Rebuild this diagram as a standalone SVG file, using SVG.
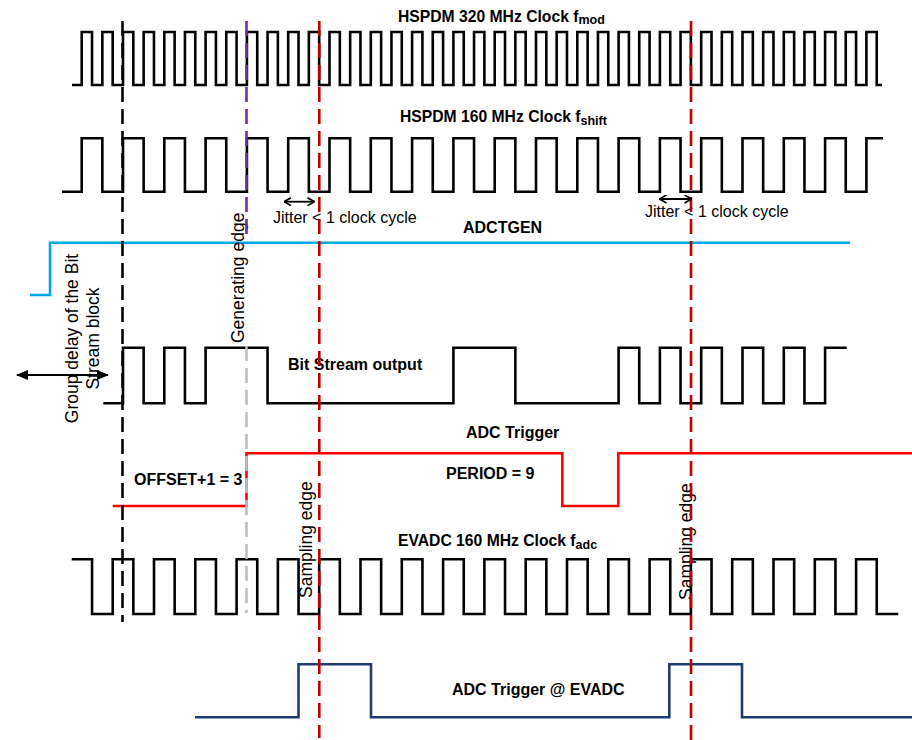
<svg xmlns="http://www.w3.org/2000/svg" width="912" height="740" viewBox="0 0 912 740">
<style>
.sig{fill:none;stroke:#000;stroke-width:2.6;stroke-linejoin:miter;stroke-linecap:butt}
.blue{fill:none;stroke:#00a8e8;stroke-width:2.6}
.red{fill:none;stroke:#ff0000;stroke-width:2.6}
.navy{fill:none;stroke:#1f3b73;stroke-width:2.6}
.dash{fill:none;stroke-width:2.6;stroke-dasharray:15 7}
.t{font-family:"Liberation Sans",Arial,sans-serif;fill:#000}
.b{font-weight:bold;font-size:15.7px}
.lb{font-weight:bold;font-size:16px}
.sub{font-size:12.5px}
.j{font-size:16px}
.rot{font-size:17.5px}
.arr{fill:none;stroke:#000;stroke-width:1.8}
</style>
<defs>
<marker id="open" viewBox="0 0 8 9" refX="7.5" refY="4.5" markerWidth="8" markerHeight="9" markerUnits="userSpaceOnUse" orient="auto-start-reverse">
<path d="M0.5,0.5 L7.5,4.5 L0.5,8.5" fill="none" stroke="#000" stroke-width="1.6"/>
</marker>
<marker id="solid" viewBox="0 0 12 10" refX="11" refY="5" markerWidth="12" markerHeight="10" markerUnits="userSpaceOnUse" orient="auto-start-reverse">
<path d="M0,0 L12,5 L0,10 z" fill="#000"/>
</marker>
</defs>

<g id="clk320">
<path class="sig" d="M72,85 H81.7
v-53h10.325v53h10.325 v-53h10.325v53h10.325 v-53h10.325v53h10.325 v-53h10.325v53h10.325 v-53h10.325v53h10.325
v-53h10.325v53h10.325 v-53h10.325v53h10.325 v-53h10.325v53h10.325 v-53h10.325v53h10.325 v-53h10.325v53h10.325
v-53h10.325v53h10.325 v-53h10.325v53h10.325 v-53h10.325v53h10.325 v-53h10.325v53h10.325 v-53h10.325v53h10.325
v-53h10.325v53h10.325 v-53h10.325v53h10.325 v-53h10.325v53h10.325 v-53h10.325v53h10.325 v-53h10.325v53h10.325
v-53h10.325v53h10.325 v-53h10.325v53h10.325 v-53h10.325v53h10.325 v-53h10.325v53h10.325 v-53h10.325v53h10.325
v-53h10.325v53h10.325 v-53h10.325v53h10.325 v-53h10.325v53h10.325 v-53h10.325v53h10.325 v-53h10.325v53h10.325
v-53h10.325v53h10.325 v-53h10.325v53h10.325 v-53h10.325v53h10.325 v-53h10.325v53h10.325 v-53h10.325v53h10.325
v-53h10.325v53h10.325 v-53h10.325v53h10.325 v-53h10.325v53h10.325
v-53h10.325v53H882"/>
<text class="t b" x="398" y="21.7">HSPDM 320 MHz Clock f<tspan class="sub" dy="2.5">mod</tspan></text>
</g>

<g id="clk160">
<path class="sig" d="M62,191.7 H81.7
v-53.4h20.65v53.4h20.65 v-53.4h20.65v53.4h20.65 v-53.4h20.65v53.4h20.65 v-53.4h20.65v53.4h20.65 v-53.4h20.65v53.4h20.65
v-53.4h20.65v53.4h20.65 v-53.4h20.65v53.4h20.65 v-53.4h20.65v53.4h20.65 v-53.4h20.65v53.4h20.65 v-53.4h20.65v53.4h20.65
v-53.4h20.65v53.4h20.65 v-53.4h20.65v53.4h20.65 v-53.4h20.65v53.4h20.65 v-53.4h20.65v53.4h20.65 v-53.4h20.65v53.4h20.65
v-53.4h20.65v53.4h20.65 v-53.4h20.65v53.4h20.65 v-53.4h20.65v53.4h20.65 v-53.4h20.65v53.4h20.65
v-53.4H883"/>
<text class="t b" x="400" y="122.3">HSPDM 160 MHz Clock f<tspan class="sub" dy="2.5">shift</tspan></text>
</g>

<g id="jitter1">
<text class="t j" x="273" y="222.5">Jitter &lt; 1 clock cycle</text>
</g>
<g id="jitter2">
<text class="t j" x="645" y="217">Jitter &lt; 1 clock cycle</text>
</g>

<g id="adctgen">
<path class="blue" d="M30,295 H50 V242.7 H850"/>
<text class="t lb" x="463" y="233">ADCTGEN</text>
</g>

<g id="bitstream">
<path class="sig" d="M103.3,403.3 H123 V347.7 H143.65 V403.3 H164.3 V347.7 H184.95 V403.3 H205.6 V347.7 H267.55 V403.3 H453.4 V347.7 H515.35 V403.3 H618.6 V347.7 H639.25 V403.3 H659.9 V347.7 H680.55 V403.3 H701.2 V347.7 H721.85 V403.3 H742.5 V347.7 H763.15 V403.3 H783.8 V347.7 H804.45 V403.3 H825.1 V347.7 H846.7"/>
<text class="t lb" x="288" y="370">Bit Stream output</text>
</g>

<g id="groupdelay">
<text class="t rot" text-anchor="middle" transform="translate(77.5,338.5) rotate(-90)">Group delay of the Bit</text>
<text class="t rot" text-anchor="middle" transform="translate(98.5,338.5) rotate(-90)">Stream block</text>
</g>

<g id="adctrigger">
<path class="red" d="M112.7,506 H246.5 V453.3 H562.3 V506 H618.3 V453.3 H912"/>
<text class="t lb" x="466" y="438.3">ADC Trigger</text>
<text class="t lb" x="446" y="479.3">PERIOD = 9</text>
<text class="t lb" x="134" y="485">OFFSET+1 = 3</text>
</g>

<g id="evadcclk">
<path class="sig" d="M71.7,559.3 H92.05 V614 H112.7 V559.3
h20.65v54.7h20.65v-54.7 h20.65v54.7h20.65v-54.7 h20.65v54.7h20.65v-54.7 h20.65v54.7h20.65v-54.7 h20.65v54.7h20.65v-54.7
h20.65v54.7h20.65v-54.7 h20.65v54.7h20.65v-54.7 h20.65v54.7h20.65v-54.7 h20.65v54.7h20.65v-54.7 h20.65v54.7h20.65v-54.7
h20.65v54.7h20.65v-54.7 h20.65v54.7h20.65v-54.7 h20.65v54.7h20.65v-54.7 h20.65v54.7h20.65v-54.7 h20.65v54.7h20.65v-54.7
h20.65v54.7h20.65v-54.7 h20.65v54.7h20.65v-54.7 h20.65v54.7h20.65v-54.7
h20.65v54.7H898.3"/>
<text class="t b" x="398" y="546">EVADC 160 MHz Clock f<tspan class="sub" dy="2.5">adc</tspan></text>
</g>

<g id="adctrigger-evadc">
<path class="navy" d="M195,717.3 H298.5 V664.3 H371 V717.3 H669.3 V664.3 H742 V717.3 H912"/>
<text class="t lb" x="452" y="695">ADC Trigger @ EVADC</text>
</g>

<g id="edgelabels">
<text class="t rot" transform="translate(243.5,343) rotate(-90)">Generating edge</text>
<text class="t rot" transform="translate(311.8,598) rotate(-90)">Sampling edge</text>
<text class="t rot" transform="translate(691.8,600) rotate(-90)">Sampling edge</text>
</g>

<g id="connectors">
<path class="dash" stroke="#000" d="M122.5,21 V622"/>
<path class="dash" stroke="#7030a0" d="M246.5,21 V238"/>
<path class="dash" stroke="#bfbfbf" d="M246.5,346 V613"/>
<path class="dash" stroke="#c00000" d="M319.3,21 V738"/>
<path class="dash" stroke="#c00000" d="M691,21 V740"/>
<path class="arr" d="M284,201.7 H314.5" marker-start="url(#open)" marker-end="url(#open)"/>
<path class="arr" d="M659.5,199 H691.5" marker-start="url(#open)" marker-end="url(#open)"/>
<path class="arr" d="M17,375 H108" marker-start="url(#solid)" marker-end="url(#solid)"/>
</g>
</svg>
